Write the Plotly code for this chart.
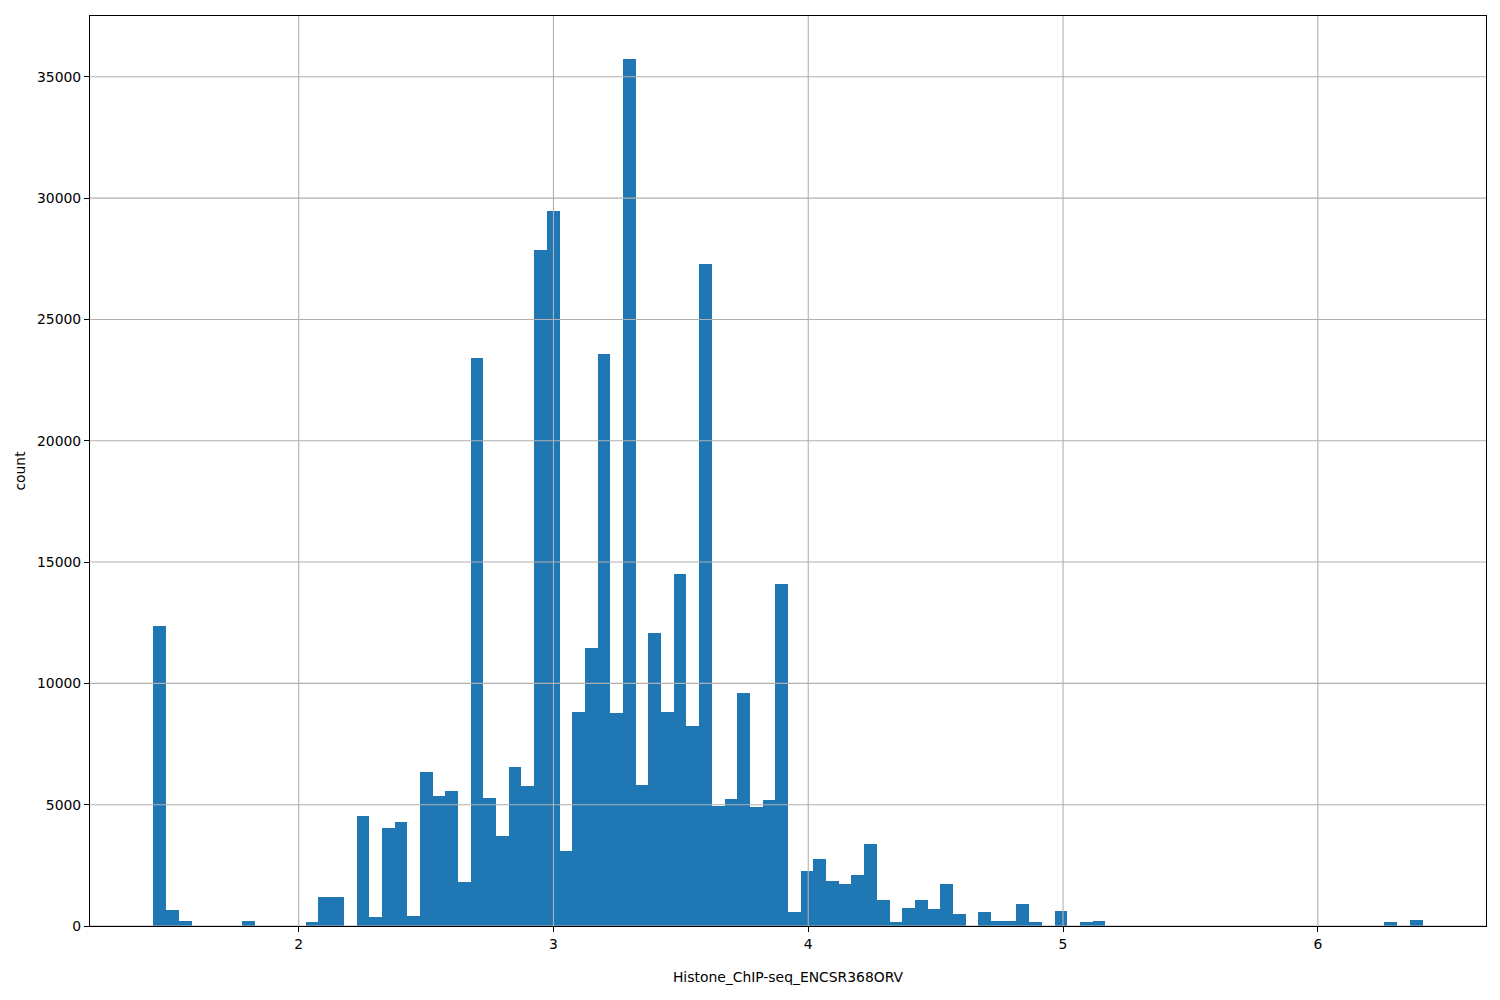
import plotly.graph_objects as go

# Histogram data (100 equal bins between data_min and data_max)
data_min = 1.430
data_max = 6.411
counts = [
    12370, 660, 200, 0, 0, 0, 0, 200, 0, 0,
    0, 0, 165, 1195, 1195, 0, 4530, 370, 4040, 4290,
    410, 6340, 5360, 5565, 1810, 23400, 5280, 3710, 6550, 5770,
    27860, 29460, 3090, 8820, 11450, 23570, 8780, 35720, 5810, 12070,
    8820, 14500, 8240, 27280, 4945, 5230, 9600, 4900, 5190, 14090,
    580, 2270, 2770, 1860, 1735, 2110, 3390, 1075, 165, 745,
    1075, 700, 1735, 500, 0, 580, 200, 200, 910, 165,
    0, 620, 0, 165, 200, 0, 0, 0, 0, 0,
    0, 0, 0, 0, 0, 0, 0, 0, 0, 0,
    0, 0, 0, 0, 0, 0, 0, 165, 0, 250,
]
x_ticks = [2, 3, 4, 5, 6]
y_ticks = [0, 5000, 10000, 15000, 20000, 25000, 30000, 35000]
x_title = "Histone_ChIP-seq_ENCSR368ORV"
y_title = "count"

n_bins = len(counts)
bw = (data_max - data_min) / n_bins
centers = [data_min + (i + 0.5) * bw for i in range(n_bins)]

pad = 0.05 * (data_max - data_min)
x_range = [data_min - pad, data_max + pad]
y_range = [0, max(counts) * 1.05]

fig = go.Figure()
fig.add_trace(go.Bar(
    x=centers, y=counts, width=[bw] * n_bins,
    marker=dict(color="#1f77b4", line=dict(width=0)),
    showlegend=False,
))

grid_color = "#b0b0b0"
shapes = []
for t in x_ticks:
    shapes.append(dict(type="line", xref="x", yref="paper", x0=t, x1=t, y0=0, y1=1,
                       line=dict(color=grid_color, width=1.1), layer="above"))
for t in y_ticks:
    shapes.append(dict(type="line", xref="paper", yref="y", x0=0, x1=1, y0=t, y1=t,
                       line=dict(color=grid_color, width=1.1), layer="above"))

font = dict(family="DejaVu Sans", size=13.9, color="black")
fig.update_layout(
    width=1500, height=1000,
    margin=dict(l=82, r=22, t=8, b=82),
    paper_bgcolor="white", plot_bgcolor="white",
    font=font,
    bargap=0,
    shapes=shapes,
    xaxis=dict(
        range=x_range, tickvals=x_ticks, ticktext=[str(t) for t in x_ticks],
        showgrid=False, zeroline=False,
        showline=True, linecolor="black", linewidth=1.1, mirror=True,
        ticks="outside", ticklen=5, tickwidth=1.1, tickcolor="black",
        title=dict(text=x_title, standoff=21, font=font),
        layer="above traces",
    ),
    yaxis=dict(
        range=y_range, tickvals=y_ticks, ticktext=[str(t) for t in y_ticks],
        showgrid=False, zeroline=False,
        showline=True, linecolor="black", linewidth=1.1, mirror=True,
        ticks="outside", ticklen=5, tickwidth=1.1, tickcolor="black",
        title=dict(text=y_title, standoff=8, font=font),
        layer="above traces",
    ),
)

fig.write_html("out.html")
